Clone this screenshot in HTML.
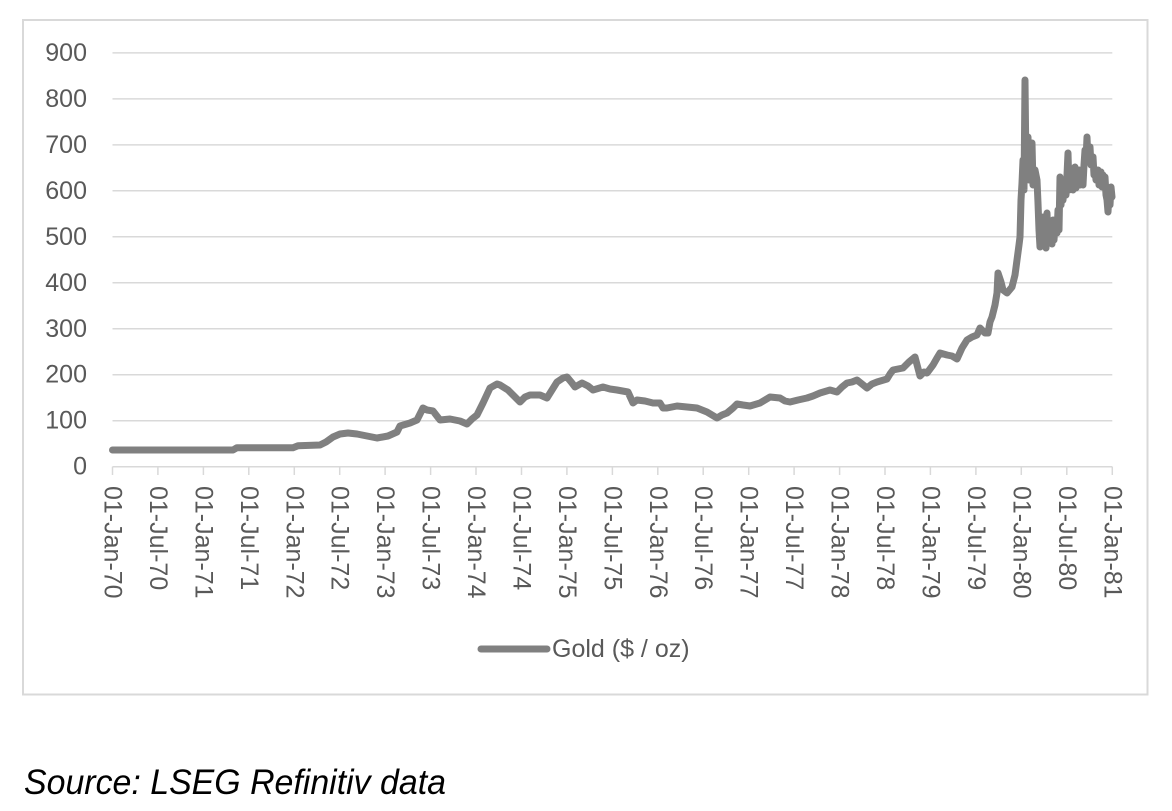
<!DOCTYPE html>
<html>
<head>
<meta charset="utf-8">
<style>
  html,body{margin:0;padding:0;background:#fff;}
  body{width:1172px;height:811px;overflow:hidden;}
  svg{display:block;}
  text{font-family:"Liberation Sans",Arial,sans-serif;}
</style>
</head>
<body>
<svg width="1172" height="811" viewBox="0 0 1172 811" xmlns="http://www.w3.org/2000/svg">
  <rect x="0" y="0" width="1172" height="811" fill="#ffffff"/>
  <!-- chart frame -->
  <rect x="23" y="20" width="1124.5" height="674.5" fill="#ffffff" stroke="#d9d9d9" stroke-width="2"/>

  <!-- gridlines -->
  <g stroke="#d9d9d9" stroke-width="1.5">
    <line x1="112.5" y1="52.9" x2="1112.3" y2="52.9"/>
    <line x1="112.5" y1="98.9" x2="1112.3" y2="98.9"/>
    <line x1="112.5" y1="144.9" x2="1112.3" y2="144.9"/>
    <line x1="112.5" y1="190.8" x2="1112.3" y2="190.8"/>
    <line x1="112.5" y1="236.8" x2="1112.3" y2="236.8"/>
    <line x1="112.5" y1="282.8" x2="1112.3" y2="282.8"/>
    <line x1="112.5" y1="328.8" x2="1112.3" y2="328.8"/>
    <line x1="112.5" y1="374.7" x2="1112.3" y2="374.7"/>
    <line x1="112.5" y1="420.7" x2="1112.3" y2="420.7"/>
    <line x1="112.5" y1="466.7" x2="1112.3" y2="466.7"/>
  </g>

  <!-- y labels -->
  <g fill="#595959" font-size="25" text-anchor="end" dominant-baseline="central">
    <text x="87" y="52.9">900</text>
    <text x="87" y="98.9">800</text>
    <text x="87" y="144.9">700</text>
    <text x="87" y="190.8">600</text>
    <text x="87" y="236.8">500</text>
    <text x="87" y="282.8">400</text>
    <text x="87" y="328.8">300</text>
    <text x="87" y="374.7">200</text>
    <text x="87" y="420.7">100</text>
    <text x="87" y="466.7">0</text>
  </g>

  <!-- x ticks -->
  <g stroke="#d9d9d9" stroke-width="1.5">
    <line x1="112.5" y1="466.7" x2="112.5" y2="475"/>
    <line x1="157.9" y1="466.7" x2="157.9" y2="475"/>
    <line x1="203.4" y1="466.7" x2="203.4" y2="475"/>
    <line x1="248.8" y1="466.7" x2="248.8" y2="475"/>
    <line x1="294.3" y1="466.7" x2="294.3" y2="475"/>
    <line x1="339.7" y1="466.7" x2="339.7" y2="475"/>
    <line x1="385.1" y1="466.7" x2="385.1" y2="475"/>
    <line x1="430.6" y1="466.7" x2="430.6" y2="475"/>
    <line x1="476.0" y1="466.7" x2="476.0" y2="475"/>
    <line x1="521.5" y1="466.7" x2="521.5" y2="475"/>
    <line x1="566.9" y1="466.7" x2="566.9" y2="475"/>
    <line x1="612.4" y1="466.7" x2="612.4" y2="475"/>
    <line x1="657.8" y1="466.7" x2="657.8" y2="475"/>
    <line x1="703.2" y1="466.7" x2="703.2" y2="475"/>
    <line x1="748.7" y1="466.7" x2="748.7" y2="475"/>
    <line x1="794.1" y1="466.7" x2="794.1" y2="475"/>
    <line x1="839.6" y1="466.7" x2="839.6" y2="475"/>
    <line x1="885.0" y1="466.7" x2="885.0" y2="475"/>
    <line x1="930.4" y1="466.7" x2="930.4" y2="475"/>
    <line x1="975.9" y1="466.7" x2="975.9" y2="475"/>
    <line x1="1021.3" y1="466.7" x2="1021.3" y2="475"/>
    <line x1="1066.8" y1="466.7" x2="1066.8" y2="475"/>
    <line x1="1112.3" y1="466.7" x2="1112.3" y2="475"/>
  </g>

  <!-- x labels -->
  <g fill="#595959" font-size="25" dominant-baseline="central">
    <text transform="translate(112.5,486) rotate(90)">01-Jan-70</text>
    <text transform="translate(157.9,486) rotate(90)">01-Jul-70</text>
    <text transform="translate(203.4,486) rotate(90)">01-Jan-71</text>
    <text transform="translate(248.8,486) rotate(90)">01-Jul-71</text>
    <text transform="translate(294.3,486) rotate(90)">01-Jan-72</text>
    <text transform="translate(339.7,486) rotate(90)">01-Jul-72</text>
    <text transform="translate(385.1,486) rotate(90)">01-Jan-73</text>
    <text transform="translate(430.6,486) rotate(90)">01-Jul-73</text>
    <text transform="translate(476.0,486) rotate(90)">01-Jan-74</text>
    <text transform="translate(521.5,486) rotate(90)">01-Jul-74</text>
    <text transform="translate(566.9,486) rotate(90)">01-Jan-75</text>
    <text transform="translate(612.4,486) rotate(90)">01-Jul-75</text>
    <text transform="translate(657.8,486) rotate(90)">01-Jan-76</text>
    <text transform="translate(703.2,486) rotate(90)">01-Jul-76</text>
    <text transform="translate(748.7,486) rotate(90)">01-Jan-77</text>
    <text transform="translate(794.1,486) rotate(90)">01-Jul-77</text>
    <text transform="translate(839.6,486) rotate(90)">01-Jan-78</text>
    <text transform="translate(885.0,486) rotate(90)">01-Jul-78</text>
    <text transform="translate(930.4,486) rotate(90)">01-Jan-79</text>
    <text transform="translate(975.9,486) rotate(90)">01-Jul-79</text>
    <text transform="translate(1021.3,486) rotate(90)">01-Jan-80</text>
    <text transform="translate(1066.8,486) rotate(90)">01-Jul-80</text>
    <text transform="translate(1112.3,486) rotate(90)">01-Jan-81</text>
  </g>

  <!-- series -->
  <polyline fill="none" stroke="#808080" stroke-width="7" stroke-linejoin="round" stroke-linecap="round"
    points="112.5,450 233,450 237,447.7 293,447.7 298,445.7 320,445 326,442 333,437 340,434 348,433 357,434 367,436 377,438 388,436 397,432 400,426 410,423 417,420 423,408 427,410 433,411 440,420 450,419 460,421 467,424 472,419 477,415 483,403 490,388 497,384 500,385 508,390 514,396 520,402 525,397 530,395 540,395 547,398 552,390 557,382 563,378 567,377 572,383 575,387 582,383 588,386 593,390 603,387 610,389 617,390 628,392 633,403 637,400 645,401 653,403 660,403 663,408 667,408 677,406 687,407 697,408 707,412 712,415 717,418 722,415 727,413 733,408 737,404 743,405 750,406 760,403 765,400 770,397 780,398 785,401 790,402 798,400 807,398 813,396 820,393 830,390 837,392 842,387 847,383 852,382 857,380 862,384 867,388 872,384 877,382 887,379 890,374 893,370 903,368 909,362 915,357 920,376 924,372 927,373 933,365 937,358 940,353 947,355 952,356 957,359 962,348 967,340 972,337 977,335 980,328 985,333 988,333 990,322 992,317 995,305 997,293 998,273 1001,282 1003,290 1007,293 1012,287 1015,275 1017,260 1019,245 1020,237 1021,200 1022,183 1023,160 1024,190 1025,80 1026,170 1027,177 1028,137 1029,180 1030,150 1031,175 1032,143 1033,185 1035,170 1037,180 1038,203 1039,230 1040,247 1041,225 1042,245 1043,217 1044,240 1045,225 1046,248 1047,213 1048,240 1049,222 1050,240 1051,225 1052,244 1053,220 1054,240 1055,226 1056,232 1057,233 1058,210 1059,230 1060,177 1061,205 1062,190 1063,200 1065,180 1066,195 1067,175 1068,153 1069,190 1070,175 1071,188 1072,173 1073,190 1074,178 1075,167 1076,188 1077,178 1078,183 1079,170 1080,185 1081,172 1082,177 1083,185 1084,165 1085,150 1086,160 1087,137 1088,160 1089,150 1090,147 1091,165 1092,160 1093,157 1094,175 1095,170 1096,180 1098,170 1099,185 1100,185 1101,172 1102,187 1103,175 1104,178 1105,177 1106,195 1107,200 1108,212 1109,195 1110,205 1111,187 1112,197"/>

  <!-- legend -->
  <line x1="481" y1="649" x2="547" y2="649" stroke="#808080" stroke-width="7" stroke-linecap="round"/>
  <text x="552" y="649" fill="#595959" font-size="25" dominant-baseline="central">Gold ($ / oz)</text>

  <!-- source -->
  <text x="24" y="794" fill="#000000" font-size="35" font-style="italic" textLength="422" lengthAdjust="spacingAndGlyphs">Source: LSEG Refinitiv data</text>
</svg>
</body>
</html>
